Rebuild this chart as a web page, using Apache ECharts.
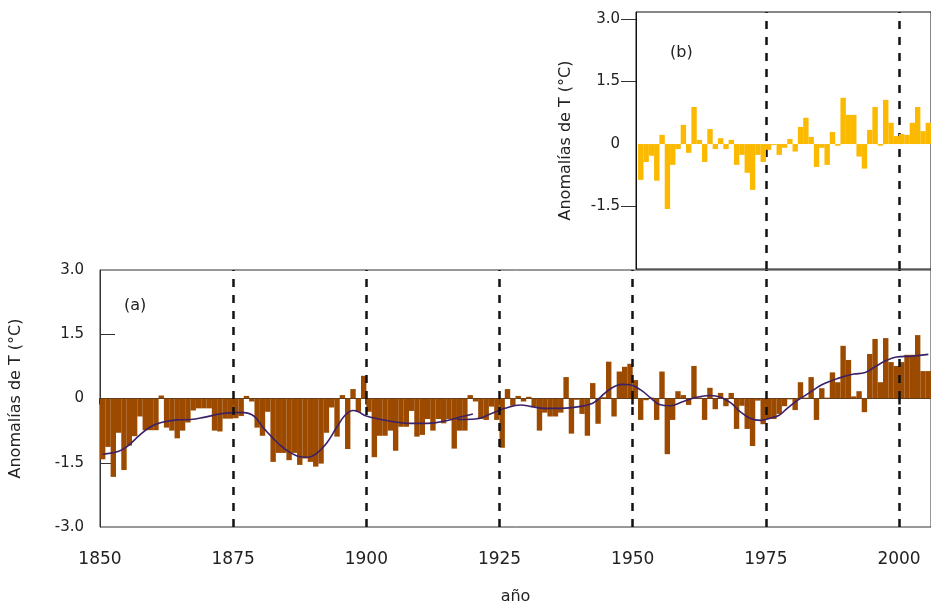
<!DOCTYPE html>
<html><head><meta charset="utf-8">
<script src="https://cdn.jsdelivr.net/npm/echarts@6/dist/echarts.min.js"></script>
<style>html,body{margin:0;padding:0;background:#fff}#c{width:931px;height:604px}</style>
</head><body><div id="c"></div>
<script>
// ---- data ----
const mainStartYear = 1850;
const mainValues = [
 -1.42,-1.13,-1.83,-0.80,-1.67,-1.10,-0.88,-0.42,-0.74,-0.74,
 -0.74, 0.07,-0.68,-0.75,-0.93,-0.75,-0.56,-0.28,-0.23,-0.23,
 -0.23,-0.75,-0.77,-0.47,-0.47,
 -0.46,-0.41, 0.06,-0.07,-0.68,-0.87,-0.31,-1.48,-1.27,-1.27,
 -1.44,-1.27,-1.55,-1.40,-1.48,-1.59,-1.52,-0.80,-0.21,-0.89,
  0.08,-1.18, 0.22,-0.31, 0.53,
 -0.31,-1.37,-0.87,-0.87,-0.75,-1.22,-0.66,-0.66,-0.29,-0.89,
 -0.85,-0.48,-0.75,-0.48,-0.58,-0.48,-1.17,-0.75,-0.75, 0.08,
 -0.07,-0.48,-0.50,-0.19,-0.50,
 -1.15, 0.22,-0.17, 0.06,-0.07, 0.04,-0.19,-0.75,-0.33,-0.42,
 -0.42,-0.33, 0.50,-0.82,-0.03,-0.36,-0.87, 0.36,-0.59, 0.03,
  0.86,-0.42, 0.63, 0.74, 0.81,
  0.43,-0.50,-0.04, 0.02,-0.50, 0.63,-1.30,-0.50, 0.17, 0.08,
 -0.15, 0.76, 0.02,-0.50, 0.25,-0.25, 0.13,-0.18, 0.13,-0.71,
 -0.17,-0.71,-1.11,-0.05,-0.60,
 -0.48,-0.48,-0.36,-0.18,-0.02,-0.27, 0.38, 0.02, 0.50,-0.50,
  0.24, 0.02, 0.61, 0.38, 1.23, 0.90, 0.05, 0.17,-0.32, 1.04,
  1.39, 0.38, 1.41, 0.85, 0.76, 0.85, 1.02, 1.02, 1.48, 0.64, 0.64
];
const insetStartYear = 1951;
const insetValues = [
 -0.86,-0.43,-0.28,-0.88, 0.22,-1.56,-0.50,-0.12, 0.46,-0.21,
  0.89, 0.10,-0.43, 0.36,-0.12, 0.14,-0.12, 0.10,-0.50,-0.26,
 -0.69,-1.10,-0.26,-0.43,-0.14,-0.02,-0.26,-0.09, 0.12,-0.18,
  0.41, 0.63, 0.17,-0.55,-0.09,-0.50, 0.29,-0.04, 1.11, 0.70,
  0.70,-0.30,-0.59, 0.34, 0.89,-0.04, 1.06, 0.51, 0.19, 0.24,
  0.22, 0.51, 0.89, 0.31, 0.51
];
const trendYearsA = [1850.5,1853.5,1855,1857.5,1859.5,1861.5,1864.5,1867,1869.5,1873,1875.5,1877,1879,1880.5,1882.5,1884.5,1887,1889,1890.5,1892.5,1894.5,1896,1897.5,1898.5,1900,1904,1908,1911.5,1915,1918,1920];
const trendValsA  = [-1.30,-1.23,-1.13,-0.85,-0.66,-0.56,-0.50,-0.49,-0.44,-0.35,-0.33,-0.33,-0.42,-0.66,-0.93,-1.16,-1.34,-1.37,-1.30,-1.05,-0.66,-0.39,-0.28,-0.31,-0.41,-0.52,-0.58,-0.58,-0.52,-0.42,-0.36];
const trendYearsB = [1917,1920.5,1923.5,1926,1929,1931,1933.5,1936.5,1940,1942.5,1944,1946,1948,1949.5,1951.5,1953.5,1955,1957,1959.5,1962,1964.5,1966.5,1968.5,1970,1972,1974,1975.5,1977.5,1979,1981,1983,1985.5,1988.5,1991.5,1993.5,1995.5,1997.5,1999.5,2002.5,2005.5];
const trendValsB  = [-0.49,-0.48,-0.35,-0.23,-0.15,-0.19,-0.23,-0.23,-0.19,-0.11,0.04,0.24,0.33,0.32,0.20,0.0,-0.14,-0.17,-0.07,0.03,0.07,0.03,-0.11,-0.29,-0.46,-0.51,-0.47,-0.39,-0.23,-0.04,0.12,0.32,0.47,0.57,0.60,0.74,0.88,0.97,0.99,1.03];
const mainDividers = [1875,1900,1925,1950,1975,2000];
const insetDividers = [1975,2000];
const xTickLabels = [1850,1875,1900,1925,1950,1975,2000];
const mainYLabels = [-3,-1.5,0,1.5,3];
const insetYLabels = [-1.5,0,1.5,3];
const yAxisTitle = 'Anomalías de T (°C)';
const xAxisTitle = 'año';

// ---- build ----
const mainBars = mainValues.map((v,i)=>[mainStartYear+i, v]);
const insetBars = insetValues.map((v,i)=>[insetStartYear+i, v]);
const trendA = trendYearsA.map((y,i)=>[y, trendValsA[i]]);
const trendB = trendYearsB.map((y,i)=>[y, trendValsB[i]]);
const FONT = 'DejaVu Sans';
const TXT = '#222';
const fmt = v => v === 0 ? '0' : v.toFixed(1);
const dash = {type:[8,8], width:2.5, color:'#111'};

const chart = echarts.init(document.getElementById('c'), null, {renderer:'canvas'});
chart.setOption({
  animation:false,
  textStyle:{fontFamily:FONT},
  title:[
    {text:'(a)', left:119, top:293, textStyle:{fontSize:16, fontWeight:'normal', color:TXT, fontFamily:FONT}},
    {text:'(b)', left:665, top:40, textStyle:{fontSize:16, fontWeight:'normal', color:TXT, fontFamily:FONT}}
  ],
  grid:[
    {left:100, right:0, top:270, bottom:77, outerBoundsMode:'none', containLabel:false,
     show:true, borderColor:'#333', borderWidth:1, backgroundColor:'transparent'},
    {left:636, right:0, top:12, bottom:335, outerBoundsMode:'none', containLabel:false,
     show:true, borderColor:'#111', borderWidth:1, backgroundColor:'#fff'}
  ],
  xAxis:[
    {type:'value', gridIndex:0, min:1850, max:2006, interval:25,
     name:xAxisTitle, nameLocation:'middle', nameGap:62,
     nameTextStyle:{fontSize:16, color:TXT, fontFamily:FONT},
     axisLine:{show:true, lineStyle:{color:'#333'}},
     axisTick:{show:true, inside:false, length:6, customValues:xTickLabels, lineStyle:{color:'#111', width:2.5}},
     splitLine:{show:false},
     axisLabel:{customValues:xTickLabels, formatter:v=>String(v), fontSize:17, color:TXT, margin:24, fontFamily:FONT}},
    {type:'value', gridIndex:0, min:1849.5, max:2005.5, show:false, splitLine:{show:false}},
    {type:'value', gridIndex:1, min:1950.6, max:2006, show:false, splitLine:{show:false}},
    {type:'value', gridIndex:1, min:1950.1, max:2005.5, show:false, splitLine:{show:false}}
  ],
  yAxis:[
    {type:'value', gridIndex:0, min:-3, max:3, interval:1.5,
     name:yAxisTitle, nameLocation:'middle', nameRotate:90, nameGap:76,
     nameTextStyle:{fontSize:16, color:TXT, fontFamily:FONT},
     axisLine:{show:true, lineStyle:{color:'#333'}},
     axisTick:{show:true, inside:true, length:15, customValues:[-1.5,1.5], lineStyle:{color:'#333'}},
     splitLine:{show:false},
     axisLabel:{customValues:mainYLabels, formatter:fmt, fontSize:15, color:TXT, margin:16, fontFamily:FONT}},
    {type:'value', gridIndex:1, min:-3, max:3.17,
     name:yAxisTitle, nameLocation:'middle', nameRotate:90, nameGap:62,
     nameTextStyle:{fontSize:16, color:TXT, fontFamily:FONT},
     axisLine:{show:true, lineStyle:{color:'#111'}},
     axisTick:{show:true, inside:false, length:15, customValues:[-1.5,1.5,3], lineStyle:{color:'#333'}},
     splitLine:{show:false},
     axisLabel:{customValues:insetYLabels, formatter:fmt, fontSize:15, color:TXT, margin:16, fontFamily:FONT}}
  ],
  series:[
    {type:'scatter', xAxisIndex:0, yAxisIndex:0, data:[], z:1, silent:true,
     markLine:{silent:true, symbol:'none', label:{show:false}, lineStyle:dash,
       data:mainDividers.map(y=>({xAxis:y}))}},
    {type:'bar', xAxisIndex:1, yAxisIndex:0, data:mainBars, barWidth:5.4, z:2,
     itemStyle:{color:'#9b4a00'}},
    {type:'line', xAxisIndex:0, yAxisIndex:0, data:trendA, smooth:0.4, symbol:'none', z:3,
     lineStyle:{color:'#3b2168', width:1.6}},
    {type:'line', xAxisIndex:0, yAxisIndex:0, data:trendB, smooth:0.4, symbol:'none', z:3,
     lineStyle:{color:'#3b2168', width:1.6}},
    {type:'scatter', xAxisIndex:2, yAxisIndex:1, data:[], z:4, silent:true,
     markLine:{silent:true, symbol:'none', label:{show:false}, lineStyle:dash,
       data:insetDividers.map(y=>({xAxis:y}))}},
    {type:'bar', xAxisIndex:3, yAxisIndex:1, data:insetBars, barWidth:5.4, z:5,
     itemStyle:{color:'#fbb900'}}
  ]
});
</script></body></html>
